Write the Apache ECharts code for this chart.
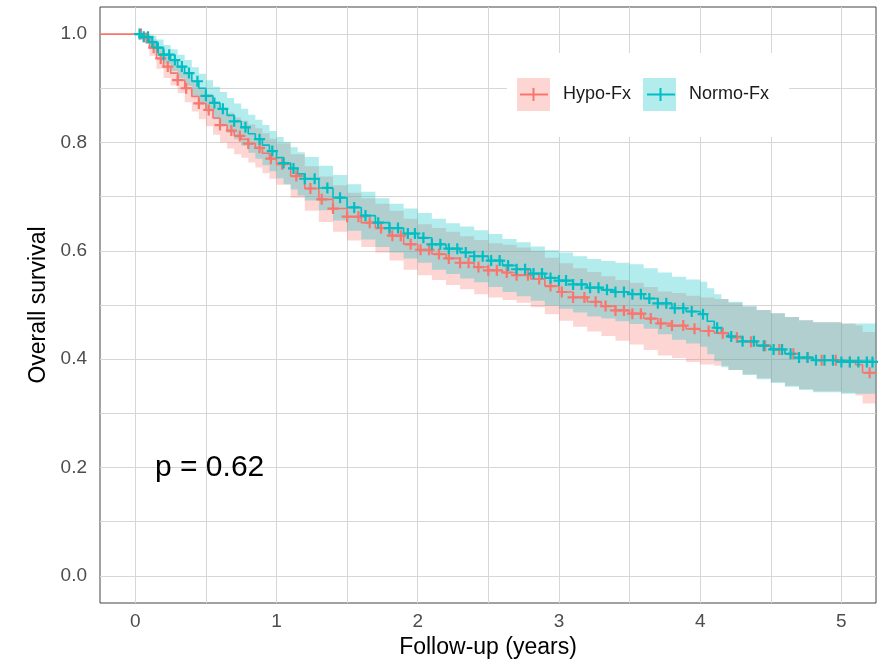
<!DOCTYPE html>
<html><head><meta charset="utf-8">
<script src="https://cdn.jsdelivr.net/npm/echarts@6/dist/echarts.min.js"></script>
<style>html,body{margin:0;padding:0;background:#fff}#c{width:887px;height:667px}</style>
</head><body><div id="c"></div>
<script>
const groups = ['Hypo-Fx', 'Normo-Fx'];
const xTicks = [0, 1, 2, 3, 4, 5];
const yTicks = [0, 0.2, 0.4, 0.6, 0.8, 1.0];
const xGrid = [0, 0.5, 1, 1.5, 2, 2.5, 3, 3.5, 4, 4.5, 5];
const yGrid = [0, 0.1, 0.2, 0.3, 0.4, 0.5, 0.6, 0.7, 0.8, 0.9, 1.0];
const pLabel = 'p = 0.62';

const hypoTime = [-0.25,0,0.05,0.10,0.15,0.20,0.25,0.30,0.35,0.40,0.45,0.50,0.55,0.60,0.65,0.70,0.75,0.80,0.85,0.90,0.95,1.00,1.10,1.20,1.30,1.40,1.50,1.60,1.70,1.80,1.90,2.00,2.10,2.20,2.30,2.40,2.50,2.60,2.70,2.80,2.90,3.00,3.10,3.20,3.30,3.40,3.50,3.60,3.70,3.80,3.90,4.00,4.10,4.20,4.30,4.40,4.50,4.60,4.70,4.80,5.00,5.10,5.15,5.25];
const hypoSurv = [1,1,0.993,0.975,0.955,0.940,0.928,0.915,0.900,0.885,0.872,0.860,0.845,0.832,0.822,0.812,0.806,0.798,0.790,0.780,0.770,0.760,0.738,0.715,0.695,0.678,0.663,0.652,0.642,0.628,0.612,0.602,0.594,0.586,0.578,0.570,0.564,0.560,0.555,0.548,0.535,0.524,0.514,0.506,0.498,0.490,0.484,0.475,0.466,0.462,0.456,0.452,0.448,0.440,0.432,0.425,0.418,0.410,0.403,0.398,0.395,0.390,0.375,0.375];
const hypoUpper = [1,1,1.000,0.990,0.974,0.961,0.951,0.939,0.926,0.913,0.901,0.890,0.876,0.864,0.855,0.846,0.840,0.833,0.826,0.817,0.807,0.798,0.778,0.756,0.737,0.721,0.707,0.697,0.687,0.674,0.659,0.649,0.642,0.635,0.627,0.620,0.614,0.611,0.606,0.600,0.587,0.577,0.568,0.561,0.553,0.546,0.541,0.533,0.525,0.522,0.517,0.514,0.511,0.504,0.497,0.491,0.485,0.478,0.472,0.468,0.466,0.462,0.450,0.450];
const hypoLower = [1,1,0.984,0.960,0.936,0.919,0.905,0.891,0.874,0.857,0.843,0.830,0.814,0.800,0.789,0.778,0.772,0.763,0.754,0.743,0.733,0.722,0.698,0.674,0.653,0.635,0.619,0.607,0.597,0.582,0.565,0.555,0.546,0.537,0.529,0.520,0.514,0.509,0.504,0.496,0.483,0.471,0.460,0.451,0.443,0.434,0.427,0.417,0.407,0.402,0.395,0.390,0.388,0.380,0.372,0.365,0.358,0.351,0.345,0.341,0.338,0.333,0.318,0.318];
const hypoCensor = [0.04,0.08,0.13,0.18,0.23,0.30,0.36,0.45,0.52,0.60,0.68,0.74,0.80,0.88,0.96,1.04,1.14,1.24,1.32,1.40,1.50,1.58,1.66,1.74,1.82,1.88,1.95,2.02,2.08,2.15,2.22,2.30,2.36,2.43,2.50,2.56,2.63,2.70,2.78,2.86,2.94,3.02,3.10,3.18,3.26,3.33,3.40,3.46,3.52,3.58,3.65,3.72,3.80,3.88,3.96,4.06,4.16,4.26,4.36,4.46,4.56,4.66,4.76,4.86,4.96,5.06,5.20];

const normoTime = [0,0.05,0.10,0.15,0.20,0.25,0.30,0.35,0.40,0.45,0.50,0.55,0.60,0.65,0.70,0.75,0.80,0.85,0.90,0.95,1.00,1.05,1.10,1.15,1.20,1.30,1.40,1.50,1.60,1.70,1.80,1.90,2.00,2.10,2.20,2.30,2.40,2.50,2.60,2.70,2.80,2.90,3.00,3.10,3.20,3.30,3.40,3.50,3.60,3.70,3.80,3.90,4.00,4.05,4.10,4.15,4.20,4.30,4.40,4.50,4.60,4.70,4.80,5.00,5.25];
const normoSurv = [1.000,0.995,0.985,0.975,0.962,0.952,0.940,0.928,0.913,0.900,0.886,0.873,0.862,0.850,0.839,0.828,0.816,0.806,0.795,0.784,0.772,0.762,0.752,0.742,0.733,0.716,0.698,0.680,0.665,0.652,0.642,0.632,0.624,0.612,0.604,0.597,0.590,0.582,0.573,0.566,0.558,0.550,0.545,0.538,0.532,0.528,0.524,0.520,0.512,0.503,0.494,0.488,0.483,0.470,0.458,0.448,0.442,0.433,0.425,0.418,0.410,0.403,0.398,0.395,0.393];
const normoUpper = [1.000,1.000,0.997,0.990,0.980,0.972,0.962,0.952,0.939,0.927,0.915,0.903,0.893,0.882,0.872,0.862,0.851,0.842,0.832,0.821,0.810,0.801,0.791,0.782,0.773,0.757,0.740,0.723,0.709,0.697,0.687,0.678,0.670,0.659,0.651,0.645,0.638,0.631,0.622,0.616,0.608,0.601,0.597,0.590,0.585,0.581,0.578,0.575,0.568,0.560,0.552,0.547,0.543,0.531,0.520,0.511,0.506,0.498,0.491,0.485,0.478,0.472,0.468,0.466,0.464];
const normoLower = [1.000,0.988,0.973,0.960,0.944,0.932,0.918,0.904,0.887,0.872,0.857,0.843,0.831,0.818,0.806,0.794,0.781,0.770,0.758,0.747,0.734,0.723,0.713,0.702,0.693,0.675,0.656,0.637,0.621,0.607,0.597,0.586,0.578,0.565,0.557,0.549,0.542,0.533,0.524,0.516,0.508,0.499,0.493,0.486,0.479,0.475,0.470,0.465,0.456,0.446,0.436,0.429,0.423,0.409,0.396,0.385,0.380,0.371,0.363,0.356,0.349,0.343,0.339,0.336,0.334];
const normoCensor = [0.03,0.06,0.09,0.12,0.16,0.20,0.24,0.28,0.33,0.38,0.44,0.50,0.56,0.62,0.70,0.78,0.88,0.97,1.05,1.12,1.20,1.27,1.36,1.45,1.55,1.63,1.72,1.80,1.86,1.93,1.98,2.04,2.10,2.16,2.22,2.28,2.34,2.40,2.46,2.52,2.58,2.64,2.70,2.76,2.82,2.88,2.94,3.00,3.05,3.10,3.16,3.22,3.28,3.34,3.40,3.46,3.52,3.58,3.64,3.70,3.76,3.82,3.88,3.94,4.02,4.12,4.22,4.30,4.38,4.45,4.52,4.58,4.64,4.70,4.76,4.82,4.88,4.94,5.00,5.06,5.12,5.18,5.22];

const colHypo = '#F8766D', colNormo = '#00BFC4';
const fillHypo = 'rgba(248,118,109,0.3)', fillNormo = 'rgba(0,191,196,0.3)';
const FONT = 'Liberation Sans, Arial, sans-serif';

function pairs(t, v) { return t.map((x, i) => [x, v[i]]); }
function survAt(t, s, c) { let v = s[0]; for (let i = 0; i < t.length; i++) { if (t[i] <= c) v = s[i]; else break; } return v; }
function censorPts(t, s, cens) { return cens.map(c => [c, survAt(t, s, c)]); }

const plusPath = 'path://M4,0H6V4H10V6H6V10H4V6H0V4H4Z';

function band(name, t, u, l, fill) {
  const data = t.map((x, i) => [x, l[i], u[i]]);
  const n = data.length;
  return {
    type: 'custom', name: name, data: data, clip: true, silent: true, z: 2,
    itemStyle: { color: fill },
    encode: { x: 0, y: [1, 2] },
    renderItem: function (params, api) {
      if (params.dataIndex !== 0) return null;
      const top = [], bot = [];
      for (let j = 0; j < n; j++) {
        const x0 = api.value(0, j), lo = api.value(1, j), hi = api.value(2, j);
        const x1 = j < n - 1 ? api.value(0, j + 1) : x0;
        top.push(api.coord([x0, hi]), api.coord([x1, hi]));
        bot.push(api.coord([x0, lo]), api.coord([x1, lo]));
      }
      const pts = top.concat(bot.reverse());
      return { type: 'polygon', shape: { points: pts }, style: { fill: fill, stroke: null } };
    }
  };
}

const chart = echarts.init(document.getElementById('c'), null, { renderer: 'canvas' });
const axisLabelStyle = { fontSize: 19, color: '#4d4d4d', fontFamily: FONT };
const option = {
  animation: false,
  backgroundColor: '#fff',
  grid: { left: 100, top: 7, right: 11, bottom: 64, show: true, borderColor: '#444', borderWidth: 1, backgroundColor: '#fff' },
  xAxis: {
    type: 'value', min: -0.25, max: 5.245,
    axisLine: { show: false },
    axisTick: { show: true, customValues: xTicks, length: 5, lineStyle: { color: '#333' } },
    axisLabel: Object.assign({ customValues: xTicks, margin: 9, formatter: v => String(v) }, axisLabelStyle),
    splitLine: { show: false },
    name: 'Follow-up (years)', nameLocation: 'middle', nameGap: 28,
    nameTextStyle: { fontSize: 23, color: '#000', fontFamily: FONT }
  },
  yAxis: {
    type: 'value', min: -0.05, max: 1.05,
    axisLine: { show: false },
    axisTick: { show: true, customValues: yTicks, length: 5, lineStyle: { color: '#333' } },
    axisLabel: Object.assign({ customValues: yTicks, margin: 13, formatter: v => v.toFixed(1) }, axisLabelStyle),
    splitLine: { show: false },
    name: 'Overall survival', nameLocation: 'middle', nameGap: 50,
    nameTextStyle: { fontSize: 23, color: '#000', fontFamily: FONT }
  },
  legend: {
    left: 507, top: 53, padding: [25, 20, 26, 10],
    backgroundColor: '#fff',
    itemWidth: 33, itemHeight: 33, itemGap: 12,
    textStyle: { fontSize: 18, color: '#1a1a1a', fontFamily: FONT, padding: [0, 0, 0, 8] },
    data: [
      { name: groups[0], icon: 'rect', itemStyle: { color: fillHypo, borderWidth: 0 } },
      { name: groups[1], icon: 'rect', itemStyle: { color: fillNormo, borderWidth: 0 } }
    ],
    selectedMode: false, z: 10
  },
  graphic: [
    { type: 'line', z: 200, shape: { x1: 520, y1: 94.5, x2: 548, y2: 94.5 }, style: { stroke: colHypo, lineWidth: 2 } },
    { type: 'line', z: 200, shape: { x1: 533.5, y1: 88, x2: 533.5, y2: 101 }, style: { stroke: colHypo, lineWidth: 2 } },
    { type: 'line', z: 200, shape: { x1: 647, y1: 94.5, x2: 675, y2: 94.5 }, style: { stroke: colNormo, lineWidth: 2 } },
    { type: 'line', z: 200, shape: { x1: 660.5, y1: 88, x2: 660.5, y2: 101 }, style: { stroke: colNormo, lineWidth: 2 } },
    { type: 'text', left: 155, top: 453, z: 200, style: { text: pLabel, fontSize: 30, fontFamily: FONT, fill: '#000' } }
  ],
  series: [
    { type: 'line', name: 'gridlines', data: [], silent: true,
      markLine: { silent: true, z: 1, symbol: ['none', 'none'], label: { show: false }, animation: false,
        lineStyle: { color: '#d6d6d6', width: 1, type: 'solid' },
        emphasis: { disabled: true },
        data: xGrid.map(v => ({ xAxis: v })).concat(yGrid.map(v => ({ yAxis: v }))) } },
    band(groups[0], hypoTime, hypoUpper, hypoLower, fillHypo),
    band(groups[1], normoTime, normoUpper, normoLower, fillNormo),
    { type: 'line', name: 'hypoLine', step: 'end', data: pairs(hypoTime, hypoSurv), symbol: 'none',
      lineStyle: { color: colHypo, width: 1.6 }, itemStyle: { color: colHypo }, z: 3, silent: true },
    { type: 'line', name: 'normoLine', step: 'end', data: pairs(normoTime, normoSurv), symbol: 'none',
      lineStyle: { color: colNormo, width: 1.6 }, itemStyle: { color: colNormo }, z: 3, silent: true },
    { type: 'scatter', name: 'hypoCens', data: censorPts(hypoTime, hypoSurv, hypoCensor), symbol: plusPath, symbolSize: 11,
      itemStyle: { color: colHypo, opacity: 1 }, z: 4, silent: true },
    { type: 'scatter', name: 'normoCens', data: censorPts(normoTime, normoSurv, normoCensor), symbol: plusPath, symbolSize: 11,
      itemStyle: { color: colNormo, opacity: 1 }, z: 4, silent: true }
  ]
};
chart.setOption(option);
</script>
</body></html>
